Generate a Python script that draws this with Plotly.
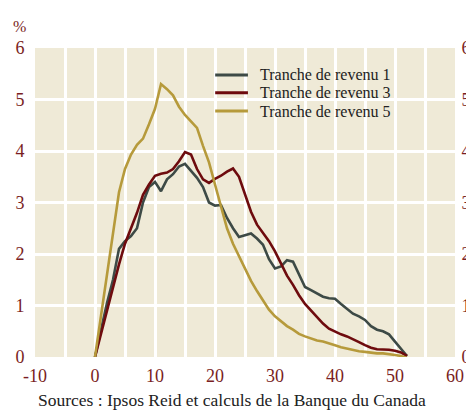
import plotly.graph_objects as go

# Valeurs (x = 0 ... 52)
x_vals = list(range(0, 53))

tranche_1 = [
    0.0, 0.55, 1.05, 1.5, 2.1, 2.25, 2.35, 2.5, 3.0, 3.3,
    3.4, 3.22, 3.45, 3.55, 3.7, 3.75, 3.62, 3.48, 3.3, 3.0,
    2.94, 2.95, 2.7, 2.5, 2.33, 2.36, 2.4, 2.3, 2.18, 1.9,
    1.72, 1.76, 1.88, 1.85, 1.6, 1.36, 1.3, 1.23, 1.17, 1.14,
    1.13, 1.03, 0.93, 0.84, 0.79, 0.72, 0.6, 0.53, 0.5, 0.44,
    0.3, 0.15, 0.02,
]
tranche_3 = [
    0.0, 0.45, 0.95, 1.4, 1.8, 2.2, 2.5, 2.8, 3.15, 3.35,
    3.52, 3.56, 3.58, 3.65, 3.8, 3.98, 3.93, 3.65, 3.45, 3.38,
    3.46, 3.52, 3.6, 3.66, 3.5, 3.15, 2.82, 2.57, 2.42, 2.25,
    2.05, 1.8, 1.58, 1.4, 1.2, 1.03, 0.9, 0.77, 0.65, 0.55,
    0.49, 0.44, 0.4, 0.35, 0.29, 0.23, 0.18, 0.15, 0.15, 0.14,
    0.12, 0.09, 0.02,
]
tranche_5 = [
    0.0, 0.8, 1.6, 2.4, 3.2, 3.65, 3.93, 4.12, 4.24, 4.52,
    4.82, 5.3, 5.2, 5.08, 4.86, 4.7, 4.58, 4.45, 4.1, 3.78,
    3.35, 2.9, 2.5, 2.2, 1.95, 1.7, 1.48, 1.28, 1.1, 0.92,
    0.79, 0.7, 0.6, 0.53, 0.45, 0.4, 0.36, 0.32, 0.3, 0.27,
    0.23, 0.19, 0.16, 0.13, 0.11, 0.1, 0.08, 0.07, 0.07, 0.06,
    0.04, 0.02, -0.02,
]

series = [
    ("Tranche de revenu 1", tranche_1, "#3D4A46"),
    ("Tranche de revenu 3", tranche_3, "#6E0B0E"),
    ("Tranche de revenu 5", tranche_5, "#B69A3B"),
]

x_ticks = list(range(-10, 61, 5))
x_labels = [str(v) if v % 10 == 0 else "" for v in x_ticks]
y_ticks = [0, 1, 2, 3, 4, 5, 6]

ROUGE = "#7A1E22"
FOND = "#EFEAD7"
POLICE = "Liberation Serif"

fig = go.Figure()
for nom, valeurs, couleur in series:
    fig.add_trace(go.Scatter(
        x=x_vals, y=valeurs, name=nom, mode="lines",
        line=dict(color=couleur, width=2.6), showlegend=False,
    ))

# trace vide pour afficher l'axe de droite
fig.add_trace(go.Scatter(x=[None], y=[None], yaxis="y2", showlegend=False,
                         hoverinfo="skip"))

axe_y = dict(
    range=[0, 6], tickvals=y_ticks, showgrid=True, gridcolor="white",
    gridwidth=3, zeroline=False, showline=False, automargin=False,
    ticks="outside", ticklen=6, tickcolor="rgba(0,0,0,0)",
    tickfont=dict(size=18, color=ROUGE, family=POLICE),
)

fig.update_layout(
    width=466, height=406,
    margin=dict(l=27, r=19, t=40, b=57),
    paper_bgcolor="white",
    plot_bgcolor=FOND,
    font=dict(family=POLICE, color="#222222"),
    xaxis=dict(
        range=[-10, 60], tickvals=x_ticks, ticktext=x_labels,
        showgrid=True, gridcolor="white", gridwidth=3,
        zeroline=True, zerolinecolor="white", zerolinewidth=3,
        showline=False, ticks="outside", ticklen=2, automargin=False,
        tickcolor="rgba(0,0,0,0)",
        tickfont=dict(size=18, color=ROUGE, family=POLICE),
    ),
    yaxis=axe_y,
    yaxis2=dict(axe_y, overlaying="y", side="right", showgrid=False,
                ticklen=2, ticklabeloverflow="allow"),
)

fig.add_annotation(text="%", xref="paper", yref="paper", x=-0.038, y=1.071,
                   xanchor="center", yanchor="middle", showarrow=False,
                   font=dict(size=16, color=ROUGE, family=POLICE))
fig.add_annotation(text="Sources : Ipsos Reid et calculs de la Banque du Canada",
                   xref="paper", yref="paper", x=0.003, y=-0.139,
                   xanchor="left", yanchor="middle", showarrow=False,
                   font=dict(size=17.5, color="#222222", family=POLICE))

# légende dessinée à la main (espacement serré comme l'original)
legende_y = [0.913, 0.855, 0.796]
for (nom, _, couleur), ly in zip(series, legende_y):
    fig.add_shape(type="line", xref="paper", yref="paper",
                  x0=0.429, x1=0.507, y0=ly, y1=ly,
                  line=dict(color=couleur, width=3))
    fig.add_annotation(text=nom, xref="paper", yref="paper", x=0.532, y=ly,
                       xanchor="left", yanchor="middle", showarrow=False,
                       font=dict(size=16, color="#222222", family=POLICE))

fig.write_html("out.html")
